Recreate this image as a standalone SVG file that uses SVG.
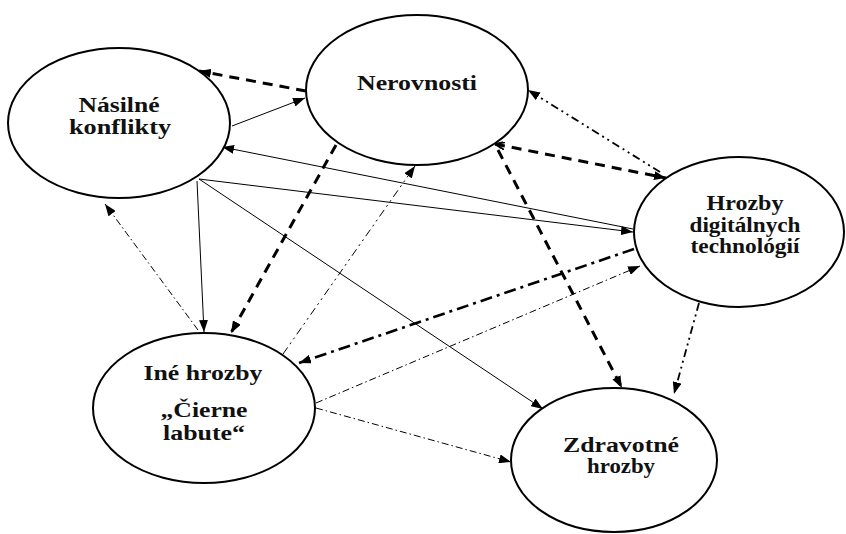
<svg xmlns="http://www.w3.org/2000/svg" width="846" height="534" viewBox="0 0 846 534">
<style>
.node ellipse{fill:#fff;stroke:#000;stroke-width:2}
.c line{stroke:#000;fill:none}
.thin{stroke-width:1}
.dash{stroke-width:3;stroke-dasharray:10 7}
.dd{stroke-width:1;stroke-dasharray:7 3 1.5 3}
.ddd{stroke-width:1.8;stroke-dasharray:8 4 2 4 2 4}
.tdd{stroke-width:2.6;stroke-dasharray:12 5 3 5}
</style>
<defs>
<marker id="ah" viewBox="0 0 12 9" refX="12" refY="4.5" markerWidth="12" markerHeight="9" markerUnits="userSpaceOnUse" orient="auto-start-reverse">
<path d="M0,0 L12,4.5 L0,9 z" fill="#000"/>
</marker>
<marker id="ahs" viewBox="0 0 10 8" refX="10" refY="4" markerWidth="10" markerHeight="8" markerUnits="userSpaceOnUse" orient="auto-start-reverse">
<path d="M0,0 L10,4 L0,8" fill="none" stroke="#000" stroke-width="2"/>
</marker>
</defs>
<rect width="846" height="534" fill="#fff"/>
<g class="c" id="connectors">
<line class="dash" x1="306" y1="91" x2="199" y2="71" marker-end="url(#ah)"/>
<line class="thin" x1="232" y1="126" x2="305" y2="98" marker-end="url(#ah)"/>
<line class="thin" x1="633" y1="229" x2="222" y2="147" marker-end="url(#ah)"/>
<line class="thin" x1="199" y1="179" x2="633" y2="232" marker-end="url(#ah)"/>
<line class="thin" x1="197" y1="181" x2="204" y2="332" marker-end="url(#ah)"/>
<line class="thin" x1="199" y1="179" x2="543" y2="409" marker-end="url(#ah)"/>
<line class="dd" x1="198" y1="330" x2="105" y2="204" marker-end="url(#ah)"/>
<line class="dash" x1="336" y1="145" x2="231" y2="333" marker-end="url(#ah)"/>
<line class="ddd" style="stroke-width:1" x1="283" y1="354" x2="415" y2="166" marker-end="url(#ah)"/>
<line class="dash" x1="495" y1="144" x2="666" y2="178" marker-start="url(#ahs)" marker-end="url(#ah)"/>
<line class="dash" x1="498" y1="150" x2="622" y2="388" marker-end="url(#ah)"/>
<line class="ddd" x1="660" y1="172" x2="528" y2="90" marker-end="url(#ah)"/>
<line class="tdd" x1="634" y1="249" x2="299" y2="363" marker-end="url(#ah)"/>
<line class="dd" x1="316" y1="403" x2="640" y2="266" marker-end="url(#ah)"/>
<line class="dd" x1="316" y1="408" x2="511" y2="462" marker-end="url(#ah)"/>
<line class="ddd" x1="699" y1="303" x2="674" y2="394" marker-end="url(#ah)"/>
</g>
<g font-family="Liberation Serif, Times New Roman, serif" font-weight="bold" font-size="20" fill="#111" text-anchor="middle">
<g class="node" id="nasilne">
<ellipse cx="119" cy="123" rx="111" ry="75"/>
<text x="119" y="112" textLength="81" lengthAdjust="spacingAndGlyphs">Násilné</text>
<text x="120" y="134" textLength="102" lengthAdjust="spacingAndGlyphs">konflikty</text>
</g>
<g class="node" id="nerovnosti">
<ellipse cx="417" cy="90" rx="111" ry="75"/>
<text x="417" y="90" textLength="120" lengthAdjust="spacingAndGlyphs">Nerovnosti</text>
</g>
<g class="node" id="digitalne">
<ellipse cx="739" cy="232" rx="105" ry="75"/>
<text x="745" y="210" textLength="77" lengthAdjust="spacingAndGlyphs">Hrozby</text>
<text x="745" y="232" textLength="111" lengthAdjust="spacingAndGlyphs">digitálnych</text>
<text x="745" y="253" textLength="109" lengthAdjust="spacingAndGlyphs">technológií</text>
</g>
<g class="node" id="ine">
<ellipse cx="204" cy="408" rx="111" ry="75"/>
<text x="203" y="380" textLength="119" lengthAdjust="spacingAndGlyphs">Iné hrozby</text>
<text x="204" y="417" textLength="87" lengthAdjust="spacingAndGlyphs">„Čierne</text>
<text x="204" y="440" textLength="82" lengthAdjust="spacingAndGlyphs">labute“</text>
</g>
<g class="node" id="zdravotne">
<ellipse cx="614" cy="460" rx="103" ry="72"/>
<text x="621" y="452" textLength="116" lengthAdjust="spacingAndGlyphs">Zdravotné</text>
<text x="621" y="473" textLength="68" lengthAdjust="spacingAndGlyphs">hrozby</text>
</g>
</g>
</svg>
